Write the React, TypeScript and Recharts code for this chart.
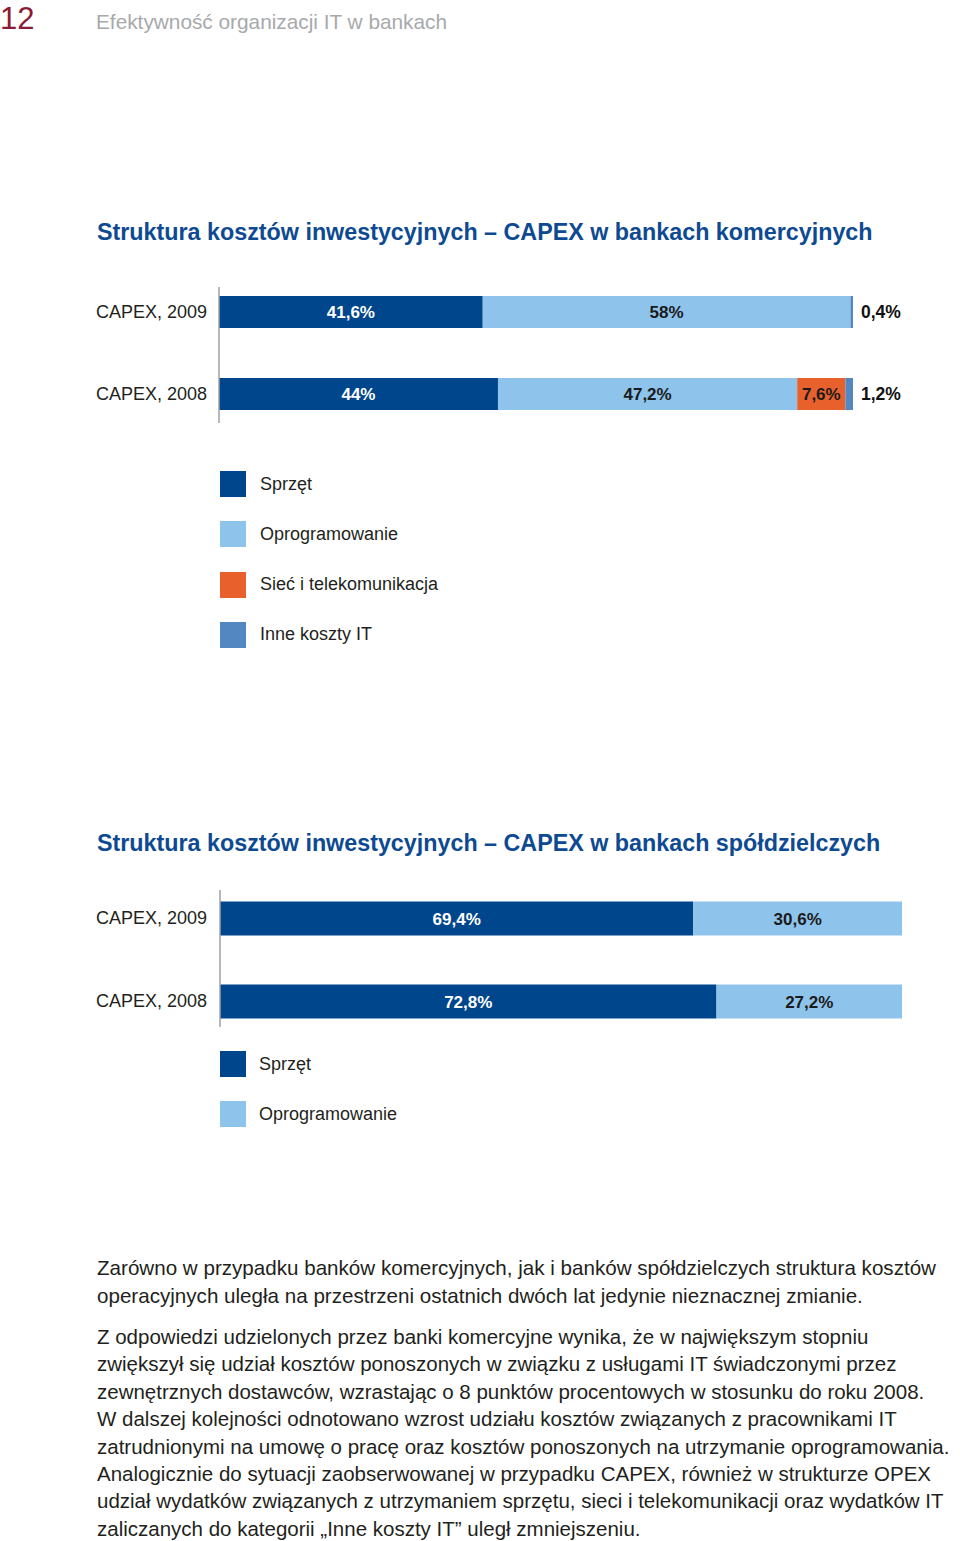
import { BarChart, Bar, XAxis, YAxis, LabelList } from 'recharts'

const commercialCategories = ['CAPEX, 2009', 'CAPEX, 2008']
const commercialHardware = [41.6, 44]
const commercialSoftware = [58, 47.2]
const commercialNetwork = [0, 7.6]
const commercialOther = [0.4, 1.2]

const coopCategories = ['CAPEX, 2009', 'CAPEX, 2008']
const coopHardware = [69.4, 72.8]
const coopSoftware = [30.6, 27.2]

const seriesNames = ['Sprzęt', 'Oprogramowanie', 'Sieć i telekomunikacja', 'Inne koszty IT']
const seriesColors = ['#00468C', '#8EC4EB', '#E8612C', '#5387C2']

const paragraph1 = [
  'Zarówno w przypadku banków komercyjnych, jak i banków spółdzielczych struktura kosztów',
  'operacyjnych uległa na przestrzeni ostatnich dwóch lat jedynie nieznacznej zmianie.',
]
const paragraph2 = [
  'Z odpowiedzi udzielonych przez banki komercyjne wynika, że w największym stopniu',
  'zwiększył się udział kosztów ponoszonych w związku z usługami IT świadczonymi przez',
  'zewnętrznych dostawców, wzrastając o 8 punktów procentowych w stosunku do roku 2008.',
  'W dalszej kolejności odnotowano wzrost udziału kosztów związanych z pracownikami IT',
  'zatrudnionymi na umowę o pracę oraz kosztów ponoszonych na utrzymanie oprogramowania.',
  'Analogicznie do sytuacji zaobserwowanej w przypadku CAPEX, również w strukturze OPEX',
  'udział wydatków związanych z utrzymaniem sprzętu, sieci i telekomunikacji oraz wydatków IT',
  'zaliczanych do kategorii „Inne koszty IT” uległ zmniejszeniu.',
]

const FONT = '"Liberation Sans", Arial, sans-serif'
const TITLE_BLUE = '#0D4A92'
const TEXT = '#231F20'

const commercialData = commercialCategories.map((name, i) => ({
  name,
  hw: commercialHardware[i],
  sw: commercialSoftware[i],
  net: commercialNetwork[i],
  other: commercialOther[i],
}))

const coopData = coopCategories.map((name, i) => ({
  name,
  hw: coopHardware[i],
  sw: coopSoftware[i],
}))

const fmt = (v: number) => String(v).replace('.', ',') + '%'

function segLabel(color: string, outside = false) {
  return (props: any) => {
    const { x, y, width, height, value } = props
    if (!value) return null
    if (outside) {
      return (
        <text x={x + width + 8} y={y + height / 2} dy='0.36em' textAnchor='start'
          fill='#111' fontSize={17.5} fontWeight={700} fontFamily={FONT}>
          {fmt(value)}
        </text>
      )
    }
    return (
      <text x={x + width / 2} y={y + height / 2} dy='0.36em' textAnchor='middle'
        fill={color} fontSize={17} fontWeight={700} fontFamily={FONT}>
        {fmt(value)}
      </text>
    )
  }
}

const tickStyle = { fill: TEXT, fontSize: 18, fontFamily: FONT }

function LegendBlock({ top, names, spacing, textLeft }: { top: number; names: string[]; spacing: number; textLeft: number }) {
  return (
    <>
      {names.map((n, i) => (
        <div key={n} style={{ position: 'absolute', left: 220, top: top + i * spacing, height: 26, display: 'flex', alignItems: 'center' }}>
          <div style={{ width: 26, height: 26, background: seriesColors[i] }} />
          <span style={{ position: 'absolute', left: textLeft - 220, whiteSpace: 'nowrap', fontSize: 18, color: TEXT }}>{n}</span>
        </div>
      ))}
    </>
  )
}

export default function App() {
  return (
    <div style={{ position: 'absolute', left: 0, top: 0, width: 960, height: 1541, background: '#fff', fontFamily: FONT, overflow: 'hidden' }}>
      <div style={{ position: 'absolute', left: 0, top: 1, fontSize: 31, color: '#8C1B35', lineHeight: '36px' }}>12</div>
      <div style={{ position: 'absolute', left: 96, top: 9, fontSize: 20.8, color: '#A7A9AC', lineHeight: '26px', whiteSpace: 'nowrap' }}>
        Efektywność organizacji IT w bankach
      </div>

      <div style={{ position: 'absolute', left: 97, top: 217, fontSize: 23.3, fontWeight: 700, color: TITLE_BLUE, whiteSpace: 'nowrap', lineHeight: '30px' }}>
        Struktura kosztów inwestycyjnych – CAPEX w bankach komercyjnych
      </div>

      <div style={{ position: 'absolute', left: 90, top: 270 }}>
        <BarChart width={830} height={173} data={commercialData} layout='vertical'
          margin={{ top: 17, right: 67, bottom: 20, left: 0 }} barSize={32}>
          <XAxis type='number' domain={[0, 100]} hide />
          <YAxis type='category' dataKey='name' width={129} tickLine={false} tickSize={0} tickMargin={12}
            axisLine={{ stroke: '#A0A0A0', strokeWidth: 1.5 }} tick={tickStyle} padding={{ top: -16, bottom: -12 }} />
          <Bar dataKey='hw' stackId='a' fill={seriesColors[0]} isAnimationActive={false}>
            <LabelList dataKey='hw' content={segLabel('#fff')} />
          </Bar>
          <Bar dataKey='sw' stackId='a' fill={seriesColors[1]} isAnimationActive={false}>
            <LabelList dataKey='sw' content={segLabel('#1A1A1A')} />
          </Bar>
          <Bar dataKey='net' stackId='a' fill={seriesColors[2]} isAnimationActive={false}>
            <LabelList dataKey='net' content={segLabel('#1A1A1A')} />
          </Bar>
          <Bar dataKey='other' stackId='a' fill={seriesColors[3]} isAnimationActive={false}>
            <LabelList dataKey='other' content={segLabel('#111', true)} />
          </Bar>
        </BarChart>
      </div>

      <LegendBlock top={471} names={seriesNames} spacing={50.3} textLeft={260} />

      <div style={{ position: 'absolute', left: 97, top: 828, fontSize: 23.3, fontWeight: 700, color: TITLE_BLUE, whiteSpace: 'nowrap', lineHeight: '30px' }}>
        Struktura kosztów inwestycyjnych – CAPEX w bankach spółdzielczych
      </div>

      <div style={{ position: 'absolute', left: 90, top: 873 }}>
        <BarChart width={832} height={174} data={coopData} layout='vertical'
          margin={{ top: 17, right: 20, bottom: 20, left: 0 }} barSize={34}>
          <XAxis type='number' domain={[0, 100]} hide />
          <YAxis type='category' dataKey='name' width={130} tickLine={false} tickSize={0} tickMargin={13}
            axisLine={{ stroke: '#A0A0A0', strokeWidth: 1.5 }} tick={tickStyle} padding={{ top: -13.5, bottom: -15.5 }} />
          <Bar dataKey='hw' stackId='a' fill={seriesColors[0]} isAnimationActive={false}>
            <LabelList dataKey='hw' content={segLabel('#fff')} />
          </Bar>
          <Bar dataKey='sw' stackId='a' fill={seriesColors[1]} isAnimationActive={false}>
            <LabelList dataKey='sw' content={segLabel('#1A1A1A')} />
          </Bar>
        </BarChart>
      </div>

      <LegendBlock top={1051} names={seriesNames.slice(0, 2)} spacing={50} textLeft={259} />

      <div style={{ position: 'absolute', left: 97, top: 1254, fontSize: 20.6, color: TEXT, lineHeight: '27.5px', whiteSpace: 'nowrap' }}>
        {paragraph1.map((l) => <div key={l}>{l}</div>)}
      </div>
      <div style={{ position: 'absolute', left: 97, top: 1323, fontSize: 20.5, color: TEXT, lineHeight: '27.4px', whiteSpace: 'nowrap' }}>
        {paragraph2.map((l) => <div key={l}>{l}</div>)}
      </div>
    </div>
  )
}
